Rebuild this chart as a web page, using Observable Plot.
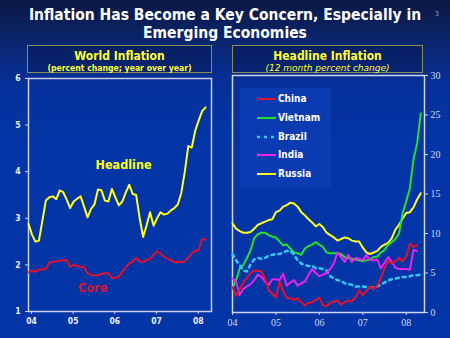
<!DOCTYPE html>
<html>
<head>
<meta charset="utf-8">
<script src="https://cdn.jsdelivr.net/npm/d3@7"></script>
<script src="https://cdn.jsdelivr.net/npm/@observablehq/plot@0.6"></script>
<style>
  html, body { margin: 0; padding: 0; }
  body { width: 450px; height: 338px; overflow: hidden;
    background: linear-gradient(to bottom, #0a1742 0px, #0b2468 35px, #06309a 85px, #0335a6 140px, #0335a6 338px);
    font-family: "DejaVu Sans Condensed", "DejaVu Sans", sans-serif; font-stretch: condensed; }
  #root { position: relative; width: 450px; height: 338px; }
  .abs { position: absolute; }
  .title { left: 22px; width: 406px; text-align: center; color: #ffffff; font-weight: bold; font-size: 15.5px; line-height: 18px; top: 6px; }
  .pnum { left: 435px; top: 10px; color: #9aa4c8; font-size: 7px; }
  .box { border: 1px solid #8c8c58; box-sizing: border-box; text-align: center; color: #ffff33; background: rgba(5, 20, 70, 0.35); }
  .box .t1 { font-weight: bold; font-size: 12px; line-height: 14px; margin-top: 3px; }
  .box .t2 { font-size: 8.6px; line-height: 11px; font-weight: bold; }
  .box .t2i { font-size: 9px; line-height: 11px; font-style: italic; font-family: "DejaVu Sans", sans-serif; font-stretch: normal; }
  .legend { left: 240px; top: 88px; width: 91px; height: 100px; background: #0a3bb0; }
  .lrow { position: absolute; left: 257px; height: 12px; color: #ffffff; font-weight: bold; font-size: 10px; line-height: 12px; white-space: nowrap; }
  .lrow svg { vertical-align: middle; margin-right: 2px; }
  .plotbox { position: absolute; top: 0; width: 225px; height: 338px; }
  .plotbox svg { display: block; max-width: none !important; }
</style>
</head>
<body>
<div id="root">
  <div class="abs title">Inflation Has Become a Key Concern, Especially in<br>Emerging Economies</div>
  <div class="abs pnum">3</div>
  <div class="abs box" style="left:27px;top:45px;width:185px;height:28px;">
    <div class="t1">World Inflation</div>
    <div class="t2">(percent change; year over year)</div>
  </div>
  <div class="abs box" style="left:232px;top:45px;width:191px;height:28px;">
    <div class="t1">Headline Inflation</div>
    <div class="t2i">(12 month percent change)</div>
  </div>
  <div id="left" class="plotbox" style="left:0;"></div>
  <div id="right" class="plotbox" style="left:225px;"></div>
  <div class="abs legend"></div>
  <div id="legendRows"></div>
</div>
<script>
// ---- World inflation (monthly, Jan 2004 onward) ----
const headline = [2.88, 2.65, 2.50, 2.52, 2.95, 3.38, 3.45, 3.47, 3.41, 3.60, 3.56, 3.40,
                  3.22, 3.36, 3.42, 3.47, 3.25, 3.02, 3.20, 3.30, 3.62, 3.60, 3.38, 3.36,
                  3.63, 3.45, 3.28, 3.36, 3.55, 3.72, 3.52, 3.50, 3.00, 2.60, 2.85, 3.13,
                  2.84, 3.00, 3.13, 3.08, 3.10, 3.17, 3.22, 3.30, 3.55, 4.00, 4.55, 4.52,
                  4.88, 5.10, 5.30, 5.38];
const core = [1.84, 1.88, 1.85, 1.90, 1.90, 1.92, 2.05, 2.06, 2.08, 2.09, 2.10, 2.10,
              1.96, 2.00, 1.98, 1.96, 1.95, 1.82, 1.79, 1.78, 1.77, 1.81, 1.82, 1.82,
              1.72, 1.72, 1.75, 1.85, 1.95, 2.03, 2.07, 2.15, 2.08, 2.06, 2.10, 2.13,
              2.22, 2.29, 2.24, 2.18, 2.13, 2.10, 2.06, 2.06, 2.07, 2.07, 2.15, 2.25,
              2.30, 2.32, 2.56, 2.54];

// ---- Headline inflation, emerging economies (monthly, Jan 2004 onward) ----
const china = [3.2, 2.1, 3.0, 3.8, 4.4, 5.0, 5.3, 5.3, 5.2, 4.3, 2.8, 2.4,
               1.9, 3.9, 2.7, 1.8, 1.8, 1.6, 1.8, 1.3, 0.9, 1.2, 1.3, 1.6,
               1.9, 0.9, 0.8, 1.2, 1.4, 1.5, 1.0, 1.3, 1.5, 1.4, 1.9, 2.8,
               2.2, 2.7, 3.3, 3.0, 3.4, 4.4, 5.6, 6.5, 6.2, 6.5, 6.9, 6.5,
               7.1, 8.7, 8.3, 8.5];
const vietnam = [3.05, 4.1, 5.6, 6.0, 6.9, 7.9, 9.4, 9.9, 10.1, 10.1, 9.8, 9.6,
                 9.5, 9.0, 8.5, 8.6, 8.1, 7.6, 7.5, 7.3, 8.1, 8.4, 8.6, 8.9,
                 8.6, 8.3, 7.6, 7.5, 7.5, 7.5, 7.4, 7.0, 6.9, 6.8, 6.7, 6.6,
                 6.5, 6.6, 6.7, 7.0, 7.1, 7.6, 7.9, 8.6, 8.9, 9.3, 10.0, 12.6,
                 14.1, 15.7, 19.4, 21.4, 25.2];
const brazil = [7.4, 6.6, 6.0, 5.3, 5.2, 6.1, 6.7, 6.9, 6.8, 6.9, 7.2, 7.3,
                7.4, 7.4, 7.6, 7.8, 7.8, 7.3, 6.6, 6.2, 6.0, 5.9, 5.9, 5.6,
                5.6, 5.5, 5.3, 4.6, 4.3, 4.1, 4.0, 3.7, 3.6, 3.5, 3.3, 3.3,
                3.3, 3.2, 3.2, 3.2, 3.3, 3.5, 3.8, 4.1, 4.2, 4.3, 4.4, 4.5,
                4.5, 4.6, 4.7, 4.7, 4.8];
const india = [4.3, 3.9, 2.2, 3.0, 3.3, 3.6, 4.1, 4.8, 4.5, 3.9, 3.5, 4.2,
               4.2, 4.1, 4.9, 3.4, 3.8, 4.1, 3.4, 3.7, 3.9, 4.8, 5.5, 5.0,
               4.6, 4.8, 5.0, 5.5, 6.2, 7.6, 7.0, 6.4, 7.3, 6.4, 6.9, 6.8,
               6.6, 7.3, 6.6, 6.6, 6.7, 5.6, 6.3, 7.0, 6.4, 5.7, 5.5, 5.5,
               5.5, 5.4, 7.9, 7.8];
const russia = [11.3, 10.6, 10.3, 10.1, 10.1, 10.2, 10.6, 11.1, 11.3, 11.5, 11.7, 11.8,
                12.7, 12.9, 13.4, 13.6, 13.9, 13.8, 13.4, 12.7, 12.3, 11.8, 11.4, 10.9,
                11.2, 10.8, 10.1, 9.8, 9.5, 9.1, 9.3, 9.5, 9.4, 9.1, 9.0, 9.0,
                8.2, 7.6, 7.4, 7.6, 7.8, 8.3, 8.6, 8.8, 9.4, 10.5, 11.1, 11.9,
                12.6, 12.7, 13.3, 14.3, 15.1];

const yearTicks = [2004, 2005, 2006, 2007, 2008];
const yearLabels = ["04", "05", "06", "07", "08"];
const leftYTicks = [1, 2, 3, 4, 5, 6];
const rightYTicks = [0, 5, 10, 15, 20, 25, 30];

const leftSeries = [
  {name: "Headline", values: headline, color: "#ffff1a"},
  {name: "Core", values: core, color: "#e0102c"}
];
const leftLabels = [
  {text: "Headline", x: 2006.28, y: 4.15, color: "#ffff1a"},
  {text: "Core", x: 2005.54, y: 1.51, color: "#e0102c"}
];
const rightSeries = [
  {name: "China", values: china, color: "#e8102a", dash: null},
  {name: "Vietnam", values: vietnam, color: "#22e02a", dash: null},
  {name: "Brazil", values: brazil, color: "#33c8ff", dash: "3,4"},
  {name: "India", values: india, color: "#ee22ee", dash: null},
  {name: "Russia", values: russia, color: "#ffff1a", dash: null}
];
const drawOrder = ["Russia", "Vietnam", "Brazil", "India", "China"];

const toRows = (s) => s.values.map((v, i) => ({date: 2004 + i / 12, value: v, name: s.name}));
const fmtYear = d => yearLabels[yearTicks.indexOf(d)];

const sansBold = "'DejaVu Sans Condensed', 'DejaVu Sans', sans-serif";

const left = Plot.plot({
  width: 225, height: 338,
  marginLeft: 28, marginRight: 14, marginTop: 78, marginBottom: 27,
  x: {domain: [2004, 2008.39], label: null},
  y: {domain: [1, 6], label: null},
  style: {background: "transparent", color: "#eceef8", fontFamily: sansBold, fontSize: "8.5px", fontWeight: "bold", overflow: "visible"},
  marks: [
    Plot.frame({stroke: "#c8d0ea", strokeWidth: 1.5}),
    Plot.axisY({ticks: leftYTicks, tickSize: 3, tickPadding: 5, tickFormat: d => String(d), stroke: "#c8d0ea", label: null}),
    Plot.axisX({ticks: yearTicks, tickSize: 3, tickPadding: 3, tickFormat: fmtYear, dx: 3, stroke: "#c8d0ea", label: null}),
    ...leftSeries.map(s => Plot.line(toRows(s), {x: "date", y: "value", stroke: s.color, strokeWidth: 2})),
    Plot.text(leftLabels, {x: "x", y: "y", text: "text", fill: "color", fontSize: 12.5, fontWeight: "bold"})
  ]
});
document.getElementById("left").append(left);

const right = Plot.plot({
  width: 225, height: 338,
  marginLeft: 7, marginRight: 26, marginTop: 75, marginBottom: 26,
  x: {domain: [2004, 2008.42], label: null},
  y: {domain: [0, 30], label: null},
  style: {background: "transparent", color: "#d4d8ec", fontFamily: "'Liberation Serif', serif", fontSize: "10px", overflow: "visible"},
  marks: [
    Plot.frame({stroke: "#d0d6ee", strokeWidth: 1.5}),
    Plot.axisY({anchor: "right", ticks: rightYTicks, tickSize: 3, tickPadding: 3, tickFormat: d => String(d), stroke: "#d0d6ee", label: null}),
    Plot.axisX({ticks: yearTicks, tickSize: 3, tickPadding: 3, tickFormat: fmtYear, stroke: "#d0d6ee", label: null}),
    ...drawOrder.map(n => rightSeries.find(s => s.name === n)).map(s =>
      Plot.line(toRows(s), {x: "date", y: "value", stroke: s.color, strokeWidth: s.dash ? 2.5 : 2,
        strokeDasharray: s.dash || undefined}))
  ]
});
document.getElementById("right").append(right);

// legend
const lr = document.getElementById("legendRows");
rightSeries.forEach((s, i) => {
  const row = document.createElement("div");
  row.className = "lrow";
  row.style.top = (93 + i * 18.8) + "px";
  row.innerHTML = `<svg width="19" height="6"><line x1="0" x2="19" y1="3" y2="3" stroke="${s.color}" stroke-width="${s.dash ? 2.5 : 2}" ${s.dash ? `stroke-dasharray="${s.dash}"` : ""}/></svg>${s.name}`;
  lr.append(row);
});
</script>
</body>
</html>
